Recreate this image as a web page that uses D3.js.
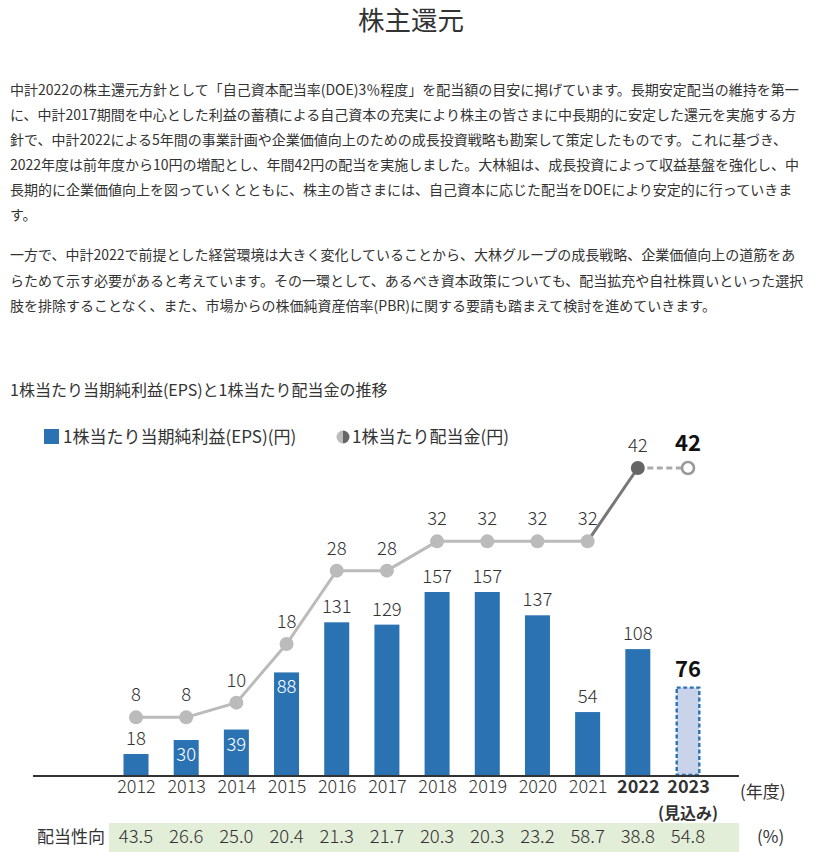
<!DOCTYPE html>
<html><head><meta charset="utf-8">
<script src="https://cdn.jsdelivr.net/npm/d3@7"></script>
<style>
body{margin:0;background:#fff;}
svg{display:block;font-family:"Noto Sans CJK JP","Noto Sans",sans-serif;}
</style></head>
<body><svg id="c" width="821" height="852"></svg>
<script>
const years = ["2012","2013","2014","2015","2016","2017","2018","2019","2020","2021","2022","2023"];
const eps = [18,30,39,88,131,129,157,157,137,54,108,76];
const dps = [8,8,10,18,28,28,32,32,32,32,42,42];
const payout = ["43.5","26.6","25.0","20.4","21.3","21.7","20.3","20.3","23.2","58.7","38.8","54.8"];
const title = "株主還元";
const para1 = [
 "中計2022の株主還元方針として「自己資本配当率(DOE)3％程度」を配当額の目安に掲げています。長期安定配当の維持を第一",
 "に、中計2017期間を中心とした利益の蓄積による自己資本の充実により株主の皆さまに中長期的に安定した還元を実施する方",
 "針で、中計2022による5年間の事業計画や企業価値向上のための成長投資戦略も勘案して策定したものです。これに基づき、",
 "2022年度は前年度から10円の増配とし、年間42円の配当を実施しました。大林組は、成長投資によって収益基盤を強化し、中",
 "長期的に企業価値向上を図っていくとともに、株主の皆さまには、自己資本に応じた配当をDOEにより安定的に行っていきま",
 "す。"
];
const para2 = [
 "一方で、中計2022で前提とした経営環境は大きく変化していることから、大林グループの成長戦略、企業価値向上の道筋をあ",
 "らためて示す必要があると考えています。その一環として、あるべき資本政策についても、配当拡充や自社株買いといった選択",
 "肢を排除することなく、また、市場からの株価純資産倍率(PBR)に関する要請も踏まえて検討を進めていきます。"
];
const subtitle = "1株当たり当期純利益(EPS)と1株当たり配当金の推移";
const legendEps = "1株当たり当期純利益(EPS)(円)";
const legendDps = "1株当たり配当金(円)";

const svg = d3.select("#c");
const txt = "#333";
const numW = 300;

svg.append("text").attr("x",411).attr("y",30).attr("text-anchor","middle")
  .attr("font-size",26.5).attr("fill",txt).text(title);

para1.forEach((l,i)=>svg.append("text").attr("x",10).attr("y",95+i*25)
  .attr("font-size",14).attr("fill",txt).text(l));
para2.forEach((l,i)=>svg.append("text").attr("x",10).attr("y",260+i*25.5)
  .attr("font-size",14).attr("fill",txt).text(l));

svg.append("text").attr("x",10).attr("y",396).attr("font-size",16).attr("fill",txt).text(subtitle);

// legend
svg.append("rect").attr("x",44).attr("y",429).attr("width",15).attr("height",15).attr("fill","#2a72b2");
svg.append("text").attr("x",63).attr("y",443).attr("font-size",17).attr("fill",txt).text(legendEps);
const lc = {x:343,y:437,r:6.5};
svg.append("path").attr("d",`M${lc.x},${lc.y-lc.r} A${lc.r},${lc.r} 0 0 0 ${lc.x},${lc.y+lc.r} Z`).attr("fill","#bbb");
svg.append("path").attr("d",`M${lc.x},${lc.y-lc.r} A${lc.r},${lc.r} 0 0 1 ${lc.x},${lc.y+lc.r} Z`).attr("fill","#666");
svg.append("text").attr("x",352).attr("y",443).attr("font-size",17).attr("fill",txt).text(legendDps);

// scales
const x = d3.scalePoint().domain(years).range([136,688]);
const yBar = d3.scaleLinear().domain([0,157]).range([775,592]);
const yLine = d3.scaleLinear().domain([0,42]).range([776,468]);
const bw = 25;
const blue = "#2a72b2";
const last = years.length-1;

// bars
svg.selectAll("rect.bar").data(eps.slice(0,last)).join("rect").attr("class","bar")
  .attr("x",(d,i)=>x(years[i])-bw/2).attr("y",d=>yBar(d))
  .attr("width",bw).attr("height",d=>yBar(0)-yBar(d)).attr("fill",blue);
svg.append("rect").attr("x",x(years[last])-bw/2+1.2).attr("y",yBar(eps[last])+1.2)
  .attr("width",bw-2.4).attr("height",yBar(0)-yBar(eps[last])-1.2)
  .attr("fill","#c9d3ea").attr("stroke",blue).attr("stroke-width",2.4).attr("stroke-dasharray","4,2.5");

// bar labels
eps.forEach((d,i)=>{
  const top = yBar(d), lineY = yLine(dps[i]);
  const inside = (top - lineY < 40) && (yBar(0)-top > 25) && i<last;
  svg.append("text").attr("x",x(years[i])).attr("y",inside? top+21 : top-9)
    .attr("text-anchor","middle").attr("font-size",i===last?22:18.5)
    .attr("font-weight",i===last?"bold":numW)
    .attr("fill",inside?"#fff":(i===last?"#111":txt)).text(d);
});

// line
const line = d3.line().x(d=>x(d[0])).y(d=>yLine(d[1]));
const pts = years.map((y,i)=>[y,dps[i]]);
svg.append("path").attr("d",line(pts.slice(0,10))).attr("fill","none").attr("stroke","#bbb").attr("stroke-width",3);
svg.append("path").attr("d",line(pts.slice(9,11))).attr("fill","none").attr("stroke","#777").attr("stroke-width",3);
svg.append("path").attr("d",line(pts.slice(10,12))).attr("fill","none").attr("stroke","#aaa").attr("stroke-width",3).attr("stroke-dasharray","6,3.5");
svg.selectAll("circle.pt").data(pts).join("circle").attr("class","pt")
  .attr("cx",d=>x(d[0])).attr("cy",d=>yLine(d[1]))
  .attr("r",(d,i)=>i===last?6:7)
  .attr("fill",(d,i)=>i===last?"#fff":(i===last-1?"#666":"#bbb"))
  .attr("stroke",(d,i)=>i===last?"#999":"none").attr("stroke-width",2.6);
pts.forEach((d,i)=>{
  svg.append("text").attr("x",x(d[0])).attr("y",yLine(d[1])-(i===last?17:16))
    .attr("text-anchor","middle").attr("font-size",i===last?22:18.5)
    .attr("font-weight",i===last?"bold":numW)
    .attr("fill",i===last?"#111":txt).text(d[1]);
});

// baseline
svg.append("line").attr("x1",33).attr("x2",739).attr("y1",776).attr("y2",776).attr("stroke","#333").attr("stroke-width",2);

// x axis labels
const ax = svg.append("g").attr("transform","translate(0,778)")
  .call(d3.axisBottom(x).tickSize(0).tickPadding(2));
ax.select(".domain").remove();
ax.selectAll("text").attr("font-size",18).attr("fill",txt)
  .attr("font-family","'Noto Sans CJK JP',sans-serif")
  .attr("font-weight",(d,i)=>i>=10?"bold":numW);
svg.append("text").attr("x",x(years[last])).attr("y",819).attr("text-anchor","middle")
  .attr("font-size",16).attr("font-weight","bold").attr("fill",txt).text("(見込み)");
svg.append("text").attr("x",740).attr("y",798).attr("font-size",17).attr("fill",txt).text("(年度)");

// payout table
svg.append("rect").attr("x",109).attr("y",823).attr("width",630).attr("height",29).attr("fill","#e3eed9");
svg.append("text").attr("x",105).attr("y",843).attr("text-anchor","end").attr("font-size",17).attr("fill",txt).text("配当性向");
payout.forEach((p,i)=>svg.append("text").attr("x",x(years[i])).attr("y",843)
  .attr("text-anchor","middle").attr("font-size",18.5).attr("font-weight",numW).attr("fill",txt).text(p));
svg.append("text").attr("x",757).attr("y",843).attr("font-size",17).attr("fill",txt).text("(%)");
</script></body></html>
